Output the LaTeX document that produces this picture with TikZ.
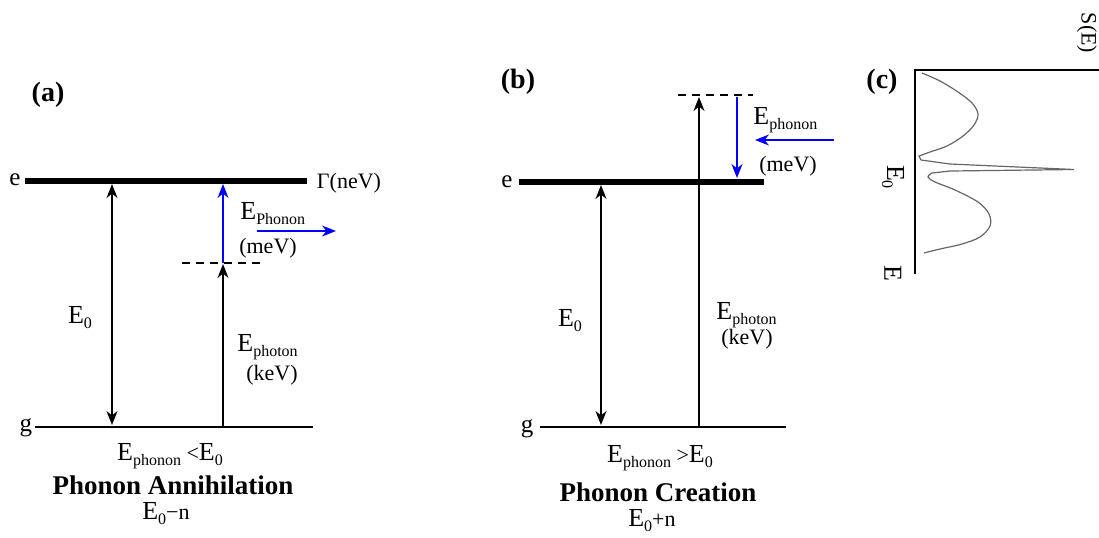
\documentclass[tikz,border=0pt]{standalone}
\usepackage{fontspec}
\setmainfont{Liberation Serif}
\usetikzlibrary{arrows.meta}
\newcommand{\lsub}[1]{\raisebox{-0.5ex}{\fontsize{8}{8}\selectfont #1}}
\newcommand{\bE}{{\fontsize{13}{13}\selectfont E}}
\tikzset{
  lvthick/.style={line width=2.8pt},
  lvthin/.style={line width=0.8pt},
  tr/.style={line width=0.75pt},
  tip/.style={-{Stealth[length=7pt,width=5.5pt,inset=2.2pt]}},
  dtip/.style={{Stealth[length=7pt,width=5.5pt,inset=2.2pt]}-{Stealth[length=7pt,width=5.5pt,inset=2.2pt]}},
  bl/.style={draw=blue,tr},
  lab/.style={inner sep=0pt,font=\fontsize{11}{12}\selectfont},
  ttl/.style={inner sep=0pt,font=\fontsize{13.5}{15}\selectfont\bfseries},
  dashln/.style={dash pattern=on 4pt off 3pt,line width=0.6pt}
}
\begin{document}
\begin{tikzpicture}[x=0.5pt,y=-0.5pt]
\useasboundingbox (0,0) rectangle (1099,537);

% ---------- panel (a) ----------
\node[ttl,font=\fontsize{14}{15}\selectfont\bfseries] (la) at (48,95) {(a)};
\coordinate (ea1) at (25,181); \coordinate (ea2) at (307,181);
\coordinate (ga1) at (35,427); \coordinate (ga2) at (313,427);
\draw[lvthick] (ea1) -- (ea2);
\draw[lvthin] (ga1) -- (ga2);
\node[lab,font=\fontsize{12.5}{13}\selectfont] (ea) at (15,180) {e};
\node[lab,font=\fontsize{12.5}{13}\selectfont] (ga) at (26,428) {g};
\node[lab] (gam) at (349,183) {Γ(neV)};
\coordinate (a1t) at (112,184); \coordinate (a1b) at (112,425);
\draw[tr,dtip] (a1t) -- (a1b);
\coordinate (dA1) at (182,263); \coordinate (dA2) at (263,263);
\draw[dashln] (dA1) -- (dA2);
\coordinate (aV) at (223,263); \coordinate (aVt) at (223,184); \coordinate (aG) at (223,427);
\draw[bl,tip,blue] (aV) -- (aVt);
\draw[tr,tip] (aG) -- (223,264);
\node[lab,anchor=west] (ephA) at (240,214) {\bE\lsub{Phonon}};
\coordinate (hA1) at (257,231); \coordinate (hA2) at (336,231);
\draw[bl,tip,blue] (hA1) -- (hA2);
\node[lab] (meA) at (268,248) {(meV)};
\node[lab] (e0A) at (80,318) {\bE\lsub{0}};
\node[lab,anchor=west] (ephoA) at (237,347) {\bE\lsub{photon}};
\node[lab] (kevA) at (272,375) {(keV)};
\node[lab] (cmpA) at (170,456) {\bE\lsub{phonon} {<}\bE\lsub{0}};
\node[ttl] (nmA) at (173,485) {Phonon Annihilation};
\node[lab] (fA) at (166,514) {\bE\lsub{0}−n};

% ---------- panel (b) ----------
\node[ttl,font=\fontsize{14}{15}\selectfont\bfseries] (lb) at (518,82) {(b)};
\coordinate (eb1) at (519,182); \coordinate (eb2) at (764,182);
\coordinate (gb1) at (540,427); \coordinate (gb2) at (786,427);
\draw[lvthick] (eb1) -- (eb2);
\draw[lvthin] (gb1) -- (gb2);
\node[lab,font=\fontsize{12.5}{13}\selectfont] (eb) at (507,182) {e};
\node[lab,font=\fontsize{12.5}{13}\selectfont] (gb) at (527,429) {g};
\coordinate (dB1) at (678,95); \coordinate (dB2) at (753,95);
\draw[dashln] (dB1) -- (dB2);
\coordinate (b1t) at (601,185); \coordinate (b1b) at (601,425);
\draw[tr,dtip] (b1t) -- (b1b);
\coordinate (bG) at (699,427); \coordinate (bV) at (699,97);
\draw[tr,tip] (bG) -- (bV);
\coordinate (bBt) at (737,97); \coordinate (bBb) at (737,178);
\draw[bl,tip,blue] (bBt) -- (bBb);
\node[lab,anchor=west] (ephB) at (753,120) {\bE\lsub{phonon}};
\coordinate (hB1) at (834,140); \coordinate (hB2) at (755,140);
\draw[bl,tip,blue] (hB1) -- (hB2);
\node[lab] (meB) at (788,166) {(meV)};
\node[lab] (e0B) at (570,321) {\bE\lsub{0}};
\node[lab,anchor=west] (ephoB) at (716,315) {\bE\lsub{photon}};
\node[lab] (kevB) at (747,339) {(keV)};
\node[lab] (cmpB) at (660,458) {\bE\lsub{phonon} {>}\bE\lsub{0}};
\node[ttl] (nmB) at (658,492) {Phonon Creation};
\node[lab] (fB) at (652,521) {\bE\lsub{0}+n};

% ---------- panel (c) ----------
\node[ttl,font=\fontsize{14}{15}\selectfont\bfseries] (lc) at (882,82) {(c)};
\coordinate (ax0) at (915,70); \coordinate (axB) at (915,274); \coordinate (axR) at (1099,70);
\draw[line width=0.8pt] (axR) -- (ax0) -- (axB);
\node[lab,rotate=-90] (se) at (1087,33) {S(E)};
\node[lab,rotate=-90] (e0c) at (893,177) {\bE\lsub{0}};
\node[lab,rotate=-90] (ec) at (893,273) {\bE};
\draw[gray!80!black,line width=0.6pt] plot[smooth,tension=0.55] coordinates {
 (922,73) (940,81) (958,92) (972,103) (978,114) (974,125) (963,136) (947,146) (930,152) (919,156)}
 -- (921,160) -- (950,164) -- (1074,169.5) -- (950,171) -- (932,173)
 plot[smooth,tension=0.55] coordinates {(932,173) (928,177) (935,182) (955,190) (978,202) (989,214) (990,226) (980,237) (962,244) (940,249) (924,253)};
\end{tikzpicture}
\end{document}
